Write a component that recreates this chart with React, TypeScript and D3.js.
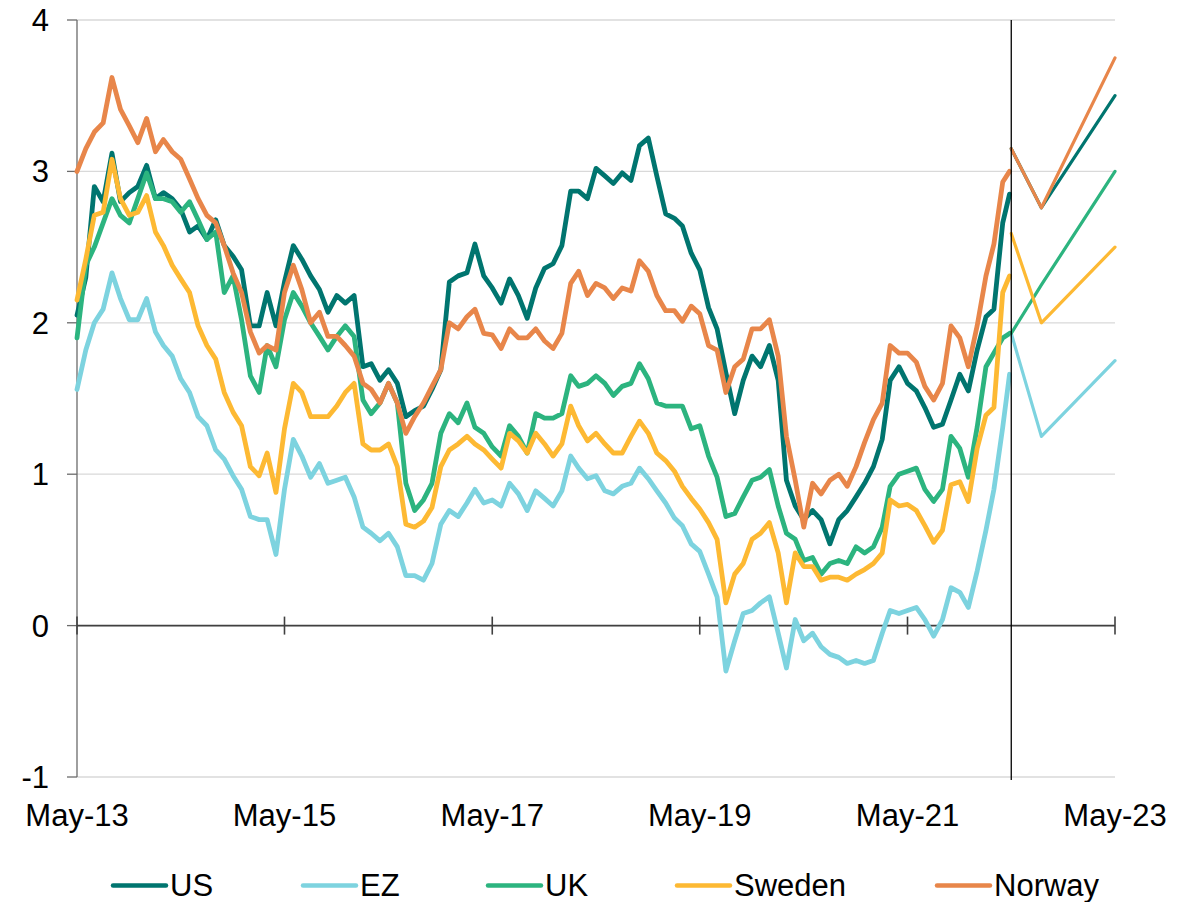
import React from 'react';
import * as d3 from 'd3';

// ---------- DATA ----------
// Monthly observations from May 2013 (index 0) to May 2022 (index 108)
const US = [
  2.05, 2.3, 2.9, 2.8, 3.12, 2.8, 2.86, 2.9, 3.04, 2.82, 2.86, 2.82, 2.75, 2.6, 2.64, 2.55, 2.68, 2.51, 2.44, 2.35,
  1.98, 1.98, 2.2, 1.98, 2.27, 2.51, 2.42, 2.31, 2.22, 2.07, 2.18, 2.13, 2.18, 1.71, 1.73, 1.62, 1.69, 1.6, 1.38, 1.42,
  1.45, 1.56, 1.69, 2.27, 2.31, 2.33, 2.52, 2.31, 2.23, 2.13, 2.29, 2.18, 2.03, 2.23, 2.36, 2.39, 2.51, 2.87, 2.87, 2.82,
  3.02, 2.97, 2.92, 2.99, 2.94, 3.17, 3.22, 2.97, 2.72, 2.69, 2.64, 2.46, 2.35, 2.1, 1.96, 1.67, 1.4, 1.62, 1.78, 1.71,
  1.85, 1.62, 0.96, 0.79, 0.7, 0.76, 0.7, 0.54, 0.7, 0.76, 0.85, 0.94, 1.05, 1.23, 1.62, 1.71, 1.6, 1.55, 1.44, 1.31,
  1.33, 1.49, 1.66, 1.55, 1.82, 2.04, 2.09, 2.66, 2.85,
];
const EZ = [
  1.56, 1.82, 2.0, 2.09, 2.33, 2.16, 2.02, 2.02, 2.16, 1.94, 1.85, 1.78, 1.63, 1.54, 1.38, 1.32, 1.16, 1.1, 0.99, 0.9,
  0.72, 0.7, 0.7, 0.47, 0.9, 1.23, 1.12, 0.98, 1.07, 0.94, 0.96, 0.98, 0.85, 0.65, 0.61, 0.56, 0.61, 0.52, 0.33, 0.33,
  0.3, 0.41, 0.67, 0.76, 0.72, 0.81, 0.9, 0.81, 0.83, 0.79, 0.94, 0.87, 0.76, 0.89, 0.84, 0.79, 0.89, 1.12, 1.04, 0.97,
  0.99, 0.89, 0.87, 0.92, 0.94, 1.04, 0.97, 0.89, 0.81, 0.71, 0.66, 0.54, 0.49, 0.34, 0.19, -0.3, -0.1, 0.08, 0.1, 0.15,
  0.19, -0.05, -0.28, 0.04, -0.1, -0.05, -0.14, -0.19, -0.21, -0.25, -0.23, -0.25, -0.23, -0.05, 0.1, 0.08, 0.1, 0.12, 0.04, -0.07,
  0.04, 0.25, 0.22, 0.12, 0.36, 0.63, 0.9, 1.31, 1.66,
];
const UK = [
  1.9, 2.38, 2.5, 2.66, 2.82, 2.71, 2.66, 2.82, 2.99, 2.82, 2.82, 2.8, 2.73, 2.8, 2.68, 2.55, 2.6, 2.2, 2.31, 2.02,
  1.65, 1.54, 1.85, 1.71, 2.02, 2.2, 2.11, 2.0, 1.91, 1.82, 1.91, 1.98, 1.91, 1.49, 1.4, 1.47, 1.6, 1.47, 0.94, 0.76,
  0.83, 0.94, 1.27, 1.4, 1.34, 1.47, 1.31, 1.27, 1.18, 1.12, 1.32, 1.25, 1.14, 1.4, 1.37, 1.37, 1.4, 1.65, 1.58, 1.6,
  1.65, 1.6, 1.52, 1.58, 1.6, 1.73, 1.63, 1.47, 1.45, 1.45, 1.45, 1.3, 1.32, 1.12, 0.98, 0.72, 0.74, 0.85, 0.96, 0.98,
  1.03, 0.79, 0.61, 0.57, 0.43, 0.45, 0.34, 0.41, 0.43, 0.41, 0.52, 0.48, 0.52, 0.65, 0.92, 1.0, 1.02, 1.04, 0.9, 0.82,
  0.9, 1.25, 1.17, 0.98, 1.31, 1.71, 1.8, 1.9, 1.93,
];
const SWEDEN = [
  2.15, 2.42, 2.71, 2.73, 3.08, 2.82, 2.71, 2.73, 2.84, 2.6, 2.51, 2.38, 2.29, 2.2, 1.98, 1.85, 1.76, 1.54, 1.41, 1.32,
  1.05, 0.99, 1.14, 0.88, 1.3, 1.6, 1.54, 1.38, 1.38, 1.38, 1.45, 1.54, 1.6, 1.2, 1.16, 1.16, 1.2, 1.05, 0.67, 0.65,
  0.69, 0.78, 1.05, 1.16, 1.2, 1.25, 1.2, 1.16, 1.1, 1.04, 1.27, 1.22, 1.14, 1.27, 1.2, 1.12, 1.2, 1.45, 1.32, 1.22,
  1.27, 1.2, 1.14, 1.14, 1.25, 1.35, 1.27, 1.14, 1.09, 1.02, 0.92, 0.84, 0.77, 0.68, 0.57, 0.15, 0.34, 0.41, 0.57, 0.61,
  0.68, 0.48, 0.15, 0.48, 0.39, 0.39, 0.3, 0.32, 0.32, 0.3, 0.34, 0.37, 0.41, 0.48, 0.83, 0.79, 0.8, 0.76, 0.66, 0.55,
  0.63, 0.93, 0.95, 0.82, 1.17, 1.39, 1.44, 2.2, 2.31,
];
const NORWAY = [
  3.0, 3.15, 3.26, 3.32, 3.62, 3.41, 3.3, 3.19, 3.35, 3.13, 3.21, 3.13, 3.08, 2.95, 2.82, 2.71, 2.66, 2.51, 2.33, 2.2,
  1.94, 1.8, 1.85, 1.82, 2.2, 2.38, 2.22, 2.0, 2.07, 1.91, 1.91, 1.85, 1.78, 1.6, 1.56, 1.47, 1.6, 1.47, 1.27, 1.38,
  1.47, 1.58, 1.69, 2.0, 1.96, 2.04, 2.09, 1.93, 1.92, 1.83, 1.96, 1.9, 1.9, 1.96, 1.88, 1.83, 1.93, 2.26, 2.34, 2.18,
  2.26, 2.23, 2.16, 2.23, 2.21, 2.41, 2.34, 2.18, 2.08, 2.08, 2.01, 2.11, 2.06, 1.85, 1.82, 1.54, 1.71, 1.76, 1.96, 1.96,
  2.02, 1.78, 1.25, 0.96, 0.65, 0.94, 0.87, 0.96, 1.0, 0.92, 1.05, 1.21, 1.36, 1.47, 1.85, 1.8, 1.8, 1.74, 1.58, 1.49,
  1.6, 1.98, 1.9, 1.71, 1.98, 2.31, 2.52, 2.93, 3.0,
];
const HIST_START = '2013-05-01';
const HIST_LAST = '2022-04-25';

// Forecast path: latest, Q3-22, mid-23
const FORECAST_DATES = ['2022-05-01', '2022-08-15', '2023-05-01'];
const US_F = [3.15, 2.76, 3.5];
const EZ_F = [1.93, 1.25, 1.75];
const UK_F = [1.93, 2.25, 3.0];
const SWEDEN_F = [2.59, 2.0, 2.5];
const NORWAY_F = [3.15, 2.76, 3.75];

const SERIES_NAMES = ['US', 'EZ', 'UK', 'Sweden', 'Norway'];
const X_TICK_DATES = ['2013-05-01', '2015-05-01', '2017-05-01', '2019-05-01', '2021-05-01', '2023-05-01'];
const X_TICK_LABELS = ['May-13', 'May-15', 'May-17', 'May-19', 'May-21', 'May-23'];
const Y_TICKS = [-1, 0, 1, 2, 3, 4];
const MARKER_DATE = '2022-05-01';

// ---------- STYLE ----------
const COLORS = ['#00756F', '#7DD3DF', '#2CB47F', '#FDB933', '#E8864A'];
const FONT = 'Arial, "Liberation Sans", Helvetica, sans-serif';
const LEGEND_X = [113, 303, 488, 677, 937];

const parse = (s: string) => new Date(s + 'T00:00:00');

export default function App() {
  const W = 1196;
  const H = 902;
  const x = d3.scaleTime().domain([parse('2013-05-01'), parse('2023-05-01')]).range([77, 1115]);
  const y = d3.scaleLinear().domain([-1, 4]).range([777, 20]);

  const start = parse(HIST_START);
  const histDates = US.map((_, i) =>
    i === US.length - 1 ? parse(HIST_LAST) : d3.timeMonth.offset(start, i)
  );
  const hist = [US, EZ, UK, SWEDEN, NORWAY];
  const fc = [US_F, EZ_F, UK_F, SWEDEN_F, NORWAY_F];
  const fDates = FORECAST_DATES.map(parse);

  const line = d3
    .line<[Date, number]>()
    .x((d) => x(d[0]))
    .y((d) => y(d[1]));

  const x0 = x.range()[0];
  const x1 = x.range()[1];
  const y0 = y(0);

  return (
    <svg
      width={W}
      height={H}
      style={{ position: 'absolute', left: 0, top: 0, background: '#fff' }}
      fontFamily={FONT}
    >
      {/* gridlines */}
      {Y_TICKS.map((t) => (
        <line key={'g' + t} x1={x0} x2={x1} y1={y(t)} y2={y(t)} stroke="#d9d9d9" strokeWidth={1.3} />
      ))}
      {/* y axis */}
      <line x1={x0} x2={x0} y1={y(4)} y2={y(-1)} stroke="#6b6b6b" strokeWidth={1.3} />
      {Y_TICKS.map((t) => (
        <g key={'yt' + t}>
          <line x1={x0 - 10} x2={x0} y1={y(t)} y2={y(t)} stroke="#6b6b6b" strokeWidth={1.3} />
          <text x={49} y={y(t) + 11} textAnchor="end" fontSize={31} fill="#000">
            {t}
          </text>
        </g>
      ))}
      {/* x axis at zero */}
      <line x1={x0} x2={x1} y1={y0} y2={y0} stroke="#404040" strokeWidth={1.6} />
      {X_TICK_DATES.map((d, i) => (
        <g key={'xt' + d}>
          <line x1={x(parse(d))} x2={x(parse(d))} y1={y0 - 9} y2={y0 + 9} stroke="#404040" strokeWidth={1.6} />
          <text x={x(parse(d))} y={826} textAnchor="middle" fontSize={31} fill="#000">
            {X_TICK_LABELS[i]}
          </text>
        </g>
      ))}

      {/* historical series */}
      {hist.map((vals, si) => (
        <path
          key={'h' + si}
          d={line(vals.map((v, i) => [histDates[i], v] as [Date, number])) || ''}
          fill="none"
          stroke={COLORS[si]}
          strokeWidth={4.8}
          strokeLinejoin="round"
          strokeLinecap="round"
        />
      ))}
      {/* forecasts */}
      {fc.map((vals, si) => (
        <path
          key={'f' + si}
          d={line(vals.map((v, i) => [fDates[i], v] as [Date, number])) || ''}
          fill="none"
          stroke={COLORS[si]}
          strokeWidth={3.2}
          strokeLinejoin="round"
          strokeLinecap="round"
        />
      ))}

      {/* vertical marker */}
      <line
        x1={x(parse(MARKER_DATE))}
        x2={x(parse(MARKER_DATE))}
        y1={y(4)}
        y2={y(-1) + 3}
        stroke="#000"
        strokeWidth={1.3}
      />

      {/* legend */}
      {SERIES_NAMES.map((name, i) => (
        <g key={'lg' + name}>
          <line
            x1={LEGEND_X[i]}
            x2={LEGEND_X[i] + 53}
            y1={885.5}
            y2={885.5}
            stroke={COLORS[i]}
            strokeWidth={4.5}
            strokeLinecap="round"
          />
          <text x={LEGEND_X[i] + 57} y={896} fontSize={31} fill="#000">
            {name}
          </text>
        </g>
      ))}
    </svg>
  );
}
